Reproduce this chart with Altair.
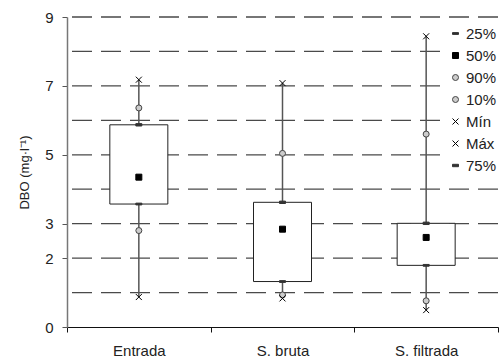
import altair as alt
import pandas as pd

categories = ["Entrada", "S. bruta", "S. filtrada"]
p25 = [3.57, 1.32, 1.79]
p50 = [4.35, 2.84, 2.60]
p75 = [5.87, 3.62, 3.01]
p90 = [6.36, 5.04, 5.60]
p10 = [2.80, 0.93, 0.76]
vmin = [0.87, 0.83, 0.49]
vmax = [7.18, 7.08, 8.44]

grid_values = [1, 2, 3, 4, 5, 6, 7, 8, 9]
y_tick_labels = [0, 2, 3, 5, 7, 9]
stat_order = ["25%", "50%", "90%", "10%", "Mín", "Máx", "75%"]

FONT = "Liberation Sans"

box_df = pd.DataFrame({"cat": categories, "p25": p25, "p75": p75,
                       "vmin": vmin, "vmax": vmax})

stat_map = {"25%": p25, "50%": p50, "90%": p90, "10%": p10,
            "Mín": vmin, "Máx": vmax, "75%": p75}
rows = []
for s in stat_order:
    for c, v in zip(categories, stat_map[s]):
        rows.append({"cat": c, "stat": s, "val": v})
pts_df = pd.DataFrame(rows)

grid_df = pd.DataFrame({"g": grid_values})

xscale = alt.Scale(domain=categories, paddingInner=0, paddingOuter=0)
yscale = alt.Scale(domain=[0, 9], nice=False)

x_enc = alt.X("cat:N", scale=xscale, sort=categories, title=None,
              axis=alt.Axis(tickBand="extent", tickSize=5, labelAngle=0,
                            domainColor="#111", tickColor="#111",
                            labelFont=FONT, labelFontSize=15, labelColor="#222",
                            labelPadding=11))

grid = alt.Chart(grid_df).mark_rule(color="#4a4a4a", strokeWidth=1.3,
                                    strokeDash=[20, 9]).encode(
    y=alt.Y("g:Q", scale=yscale,
            axis=alt.Axis(values=y_tick_labels, grid=False, tickSize=5,
                          domainColor="#777", domainWidth=1.5, tickColor="#555",
                          labelFont=FONT, labelFontSize=15, labelColor="#222",
                          labelPadding=9, title="DBO (mg·l⁻¹)",
                          titleFont=FONT, titleFontSize=13, titleFontWeight="normal",
                          titleColor="#222", titlePadding=13))
)

whisk = alt.Chart(box_df).mark_rule(color="#555", strokeWidth=1.5).encode(
    x=x_enc,
    y=alt.Y("vmin:Q", scale=yscale),
    y2="vmax:Q",
)

box = alt.Chart(box_df).mark_bar(size=58, fill="white", stroke="#222",
                                 strokeWidth=1).encode(
    x=x_enc,
    y=alt.Y("p25:Q", scale=yscale),
    y2="p75:Q",
)

dash_s = "M-1,-0.3H1V0.3H-1Z"
dash_l = "M-1,-0.4H1V0.4H-1Z"
xpath = "M-1,-1L1,1M-1,1L1,-1"

pts = alt.Chart(pts_df).mark_point(opacity=1, strokeWidth=1).encode(
    x=x_enc,
    y=alt.Y("val:Q", scale=yscale),
    shape=alt.Shape("stat:N", sort=stat_order,
                    scale=alt.Scale(domain=stat_order,
                                    range=[dash_s, "square", "circle", "circle",
                                           xpath, xpath, dash_l]),
                    legend=alt.Legend(title=None)),
    size=alt.Size("stat:N", sort=stat_order,
                  scale=alt.Scale(domain=stat_order,
                                  range=[36, 36, 72, 45, 30, 56, 49]),
                  legend=alt.Legend(title=None)),
    fill=alt.Fill("stat:N", sort=stat_order,
                  scale=alt.Scale(domain=stat_order,
                                  range=["#333", "#000", "#ccc", "#ccc",
                                         "transparent", "transparent", "#333"]),
                  legend=alt.Legend(title=None)),
    stroke=alt.Stroke("stat:N", sort=stat_order,
                      scale=alt.Scale(domain=stat_order,
                                      range=["#333", "#000", "#444", "#444",
                                             "#000", "#000", "#333"]),
                      legend=alt.Legend(title=None)),
)

chart = alt.layer(grid, whisk, box, pts).properties(
    width=431, height=310,
    autosize=alt.AutoSizeParams(type="none"),
    padding={"left": 67, "top": 17, "right": 3, "bottom": 32},
).configure_view(stroke=None).configure_legend(
    orient="none", legendX=377, legendY=5, fillColor="white", padding=4,
    labelFont=FONT, labelFontSize=15, labelColor="#222", rowPadding=6,
    labelOffset=3, symbolStrokeWidth=1,
)

chart.save("out.html", embed_options={"renderer": "svg", "actions": False})
